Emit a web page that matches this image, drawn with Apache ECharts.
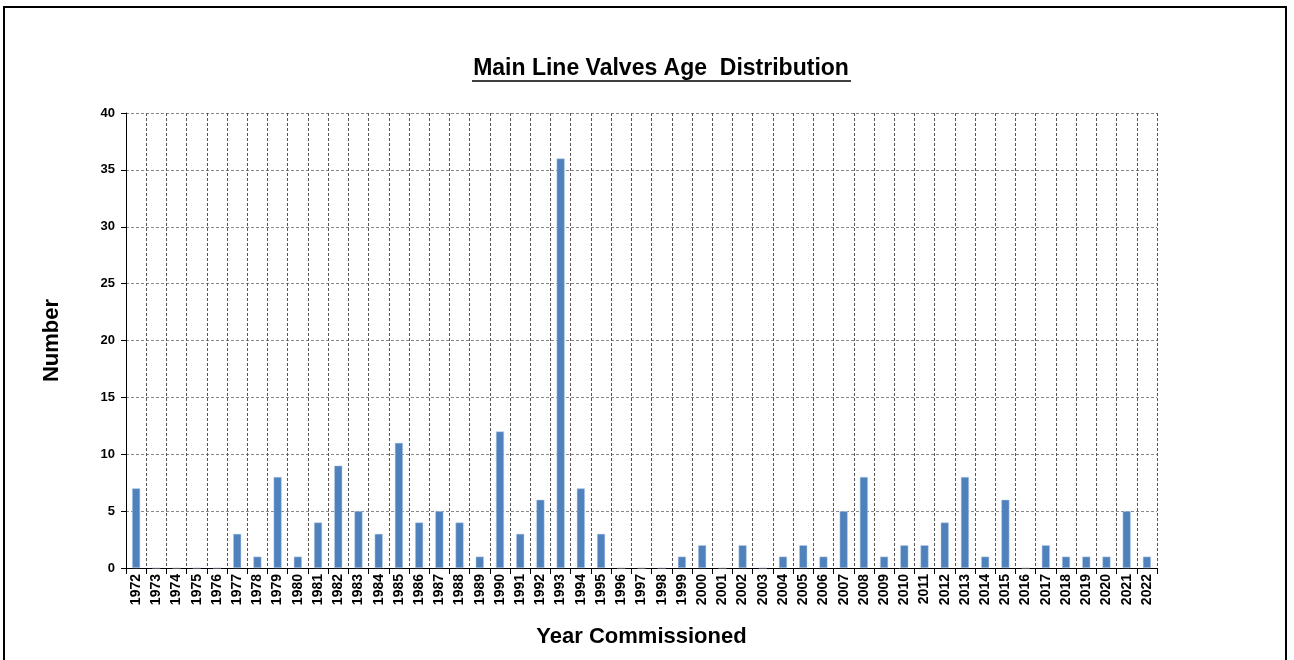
<!DOCTYPE html>
<html>
<head>
<meta charset="utf-8">
<script src="https://cdn.jsdelivr.net/npm/echarts@6/dist/echarts.min.js"></script>
<style>
  html, body { margin: 0; padding: 0; background: #fff; }
  #main { width: 1294px; height: 660px; }
</style>
</head>
<body>
<div id="main"></div>
<script>
var years = [];
for (var y = 1972; y <= 2022; y++) years.push(String(y));

var counts = [7, 0, 0, 0, 0, 3, 1, 8, 1, 4, 9, 5, 3, 11, 4, 5, 4, 1, 12, 3,
  6, 36, 7, 3, 0, 0, 0, 1, 2, 0, 2, 0, 1, 2, 1, 5, 8, 1, 2, 2,
  4, 8, 1, 6, 0, 2, 1, 1, 1, 5, 1];

var yTicks = [0, 5, 10, 15, 20, 25, 30, 35, 40];

var font = 'Liberation Sans, Arial, sans-serif';
var myChart = echarts.init(document.getElementById('main'));

// chart options
var option = {
  animation: false,
  backgroundColor: '#fff',
  grid: { left: 126, right: 137, top: 113, bottom: 92 },
  graphic: [
    {
      type: 'rect',
      shape: { x: 4, y: 7, width: 1282, height: 670 },
      style: { fill: 'none', stroke: '#000', lineWidth: 2 }
    },
    {
      type: 'text',
      x: 661, y: 57,
      style: {
        text: 'Main Line Valves Age  Distribution',
        font: 'bold 23px ' + font,
        fill: '#000',
        textAlign: 'center'
      }
    },
    {
      type: 'line',
      shape: { x1: 472, y1: 81, x2: 851, y2: 81 },
      style: { stroke: '#000', lineWidth: 1.5 }
    }
  ],
  xAxis: {
    type: 'category',
    data: years,
    name: 'Year Commissioned',
    nameLocation: 'middle',
    nameGap: 58,
    nameTextStyle: { fontFamily: font, fontWeight: 'bold', fontSize: 22, color: '#000' },
    axisLine: { lineStyle: { color: '#000', width: 1 } },
    axisTick: { show: true, alignWithLabel: false, length: 6, lineStyle: { color: '#000' } },
    axisLabel: {
      rotate: 90, interval: 0, margin: 6,
      fontFamily: font, fontWeight: 'bold', fontSize: 14, color: '#000'
    },
    splitLine: { show: true, interval: 0, lineStyle: { color: '#555', type: [3, 2], width: 1 } }
  },
  yAxis: {
    type: 'value',
    min: 0, max: 40, interval: 5,
    name: 'Number',
    nameLocation: 'middle',
    nameGap: 63,
    nameTextStyle: { fontFamily: font, fontWeight: 'bold', fontSize: 22, color: '#000' },
    axisLine: { show: true, lineStyle: { color: '#000', width: 1 } },
    axisTick: { show: true, length: 5, lineStyle: { color: '#000' } },
    axisLabel: {
      margin: 11,
      fontFamily: font, fontWeight: 'bold', fontSize: 13, color: '#000',
      formatter: function (v) { return yTicks.indexOf(v) >= 0 ? String(v) : ''; }
    },
    splitLine: { show: true, lineStyle: { color: '#888', type: [3, 2], width: 1 } }
  },
  series: [
    {
      type: 'bar',
      data: counts,
      barWidth: 8,
      itemStyle: { color: '#4F81BD', borderColor: '#B9CDE5', borderWidth: 0.5 }
    }
  ]
};
myChart.setOption(option);
</script>
</body>
</html>
